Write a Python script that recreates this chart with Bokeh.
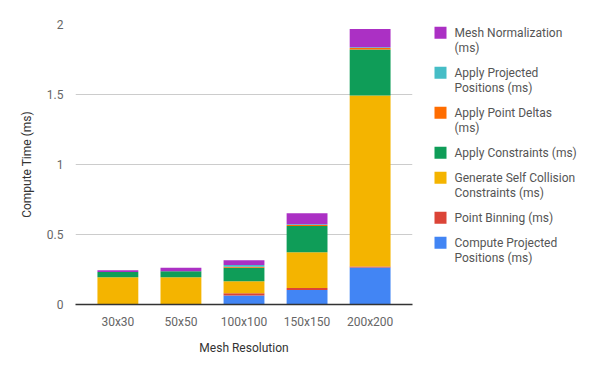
from bokeh.plotting import figure
from bokeh.layouts import row
from bokeh.models import ColumnDataSource, NumeralTickFormatter, FixedTicker, FactorRange
from bokeh.core.properties import value
from bokeh.embed import file_html
from bokeh.resources import INLINE

categories = ["30x30", "50x50", "100x100", "150x150", "200x200"]
compute_projected = [0.0, 0.0, 0.064, 0.103, 0.264]
point_binning = [0.0, 0.0, 0.017, 0.014, 0.008]
self_collision = [0.195, 0.195, 0.085, 0.257, 1.22]
apply_constraints = [0.038, 0.043, 0.096, 0.186, 0.33]
apply_point_deltas = [0.0, 0.0, 0.007, 0.007, 0.01]
apply_projected = [0.0, 0.0, 0.014, 0.007, 0.005]
mesh_normalization = [0.012, 0.024, 0.033, 0.078, 0.13]
y_ticks = [0, 0.5, 1, 1.5, 2]

series_keys = ["cp", "pb", "sc", "ac", "apd", "app", "mn"]
series_labels = [
    ["Compute Projected", "Positions (ms)"],
    ["Point Binning (ms)"],
    ["Generate Self Collision", "Constraints (ms)"],
    ["Apply Constraints (ms)"],
    ["Apply Point Deltas", "(ms)"],
    ["Apply Projected", "Positions (ms)"],
    ["Mesh Normalization", "(ms)"],
]
colors = ["#4285F4", "#DB4437", "#F4B400", "#0F9D58", "#FF6D00", "#46BDC6", "#AB30C4"]

FONT = "Roboto"
TOP, FH, BOTTOM = 24, 280, 67
LEFT, FW, RIGHT = 75, 337, 8

source = ColumnDataSource(data=dict(
    x=categories,
    cp=compute_projected, pb=point_binning, sc=self_collision,
    ac=apply_constraints, apd=apply_point_deltas, app=apply_projected,
    mn=mesh_normalization,
))

p = figure(x_range=FactorRange(*categories, range_padding=0.0688), y_range=(0, 2),
           frame_width=FW, frame_height=FH,
           output_backend="svg", toolbar_location=None,
           min_border_left=LEFT, min_border_right=RIGHT, min_border_top=TOP, min_border_bottom=BOTTOM)

p.vbar_stack(series_keys, x="x", width=0.648, color=colors, line_color=None, source=source)

p.outline_line_color = None
p.xgrid.grid_line_color = None
p.ygrid.grid_line_color = "#cccccc"
p.ygrid.ticker = FixedTicker(ticks=y_ticks)

p.yaxis.ticker = FixedTicker(ticks=y_ticks)
p.yaxis.formatter = NumeralTickFormatter(format="0.[0]")
p.yaxis.axis_line_color = None
p.yaxis.major_tick_line_color = None
p.yaxis.minor_tick_line_color = None
p.yaxis.axis_label = "Compute Time (ms)"

p.xaxis.axis_line_color = "#333333"
p.xaxis.axis_line_width = 1.5
p.xaxis.major_tick_line_color = None
p.xaxis.axis_label = "Mesh Resolution"

for ax in (p.xaxis, p.yaxis):
    ax.major_label_text_font = FONT
    ax.major_label_text_font_size = "12px"
    ax.major_label_text_color = "#666666"
    ax.axis_label_text_font = FONT
    ax.axis_label_text_font_size = "12px"
    ax.axis_label_text_font_style = "normal"
    ax.axis_label_text_color = "#333333"
p.xaxis.major_label_standoff = 4
p.yaxis.major_label_standoff = 6
p.xaxis.axis_label_standoff = 9
p.yaxis.axis_label_standoff = 10

# Legend drawn in its own panel; its data coordinates equal page pixels
X0 = LEFT + FW + RIGHT
LW = 600 - X0
lg = figure(x_range=(X0, X0 + LW), y_range=(TOP + FH, TOP), frame_width=LW, frame_height=FH,
            output_backend="svg", toolbar_location=None,
            min_border_left=0, min_border_right=0, min_border_top=TOP, min_border_bottom=BOTTOM)
lg.axis.visible = False
lg.grid.visible = False
lg.outline_line_color = None

sq_x, txt_x, y0, line_h, gap, sq = 440, 454, 32.3, 15, 10, 12
sq_xs, sq_ys, sq_cols = [], [], []
tx, ty, tt = [], [], []
y = y0
for lines, col in zip(series_labels[::-1], colors[::-1]):
    sq_xs.append(sq_x)
    sq_ys.append(y)
    sq_cols.append(col)
    for i, ln in enumerate(lines):
        tx.append(txt_x)
        ty.append(y + i * line_h)
        tt.append(ln)
    y += len(lines) * line_h + gap

lg.rect(x=sq_xs, y=sq_ys, width=sq, height=sq, color=sq_cols, line_color=None)
lg.text(x=tx, y=ty, text=tt, text_font=value(FONT), text_font_size="12px",
        text_color="#555555", text_baseline="middle", text_align="left")

layout = row(p, lg, spacing=0)
open("out.html", "w").write(file_html(layout, INLINE))
